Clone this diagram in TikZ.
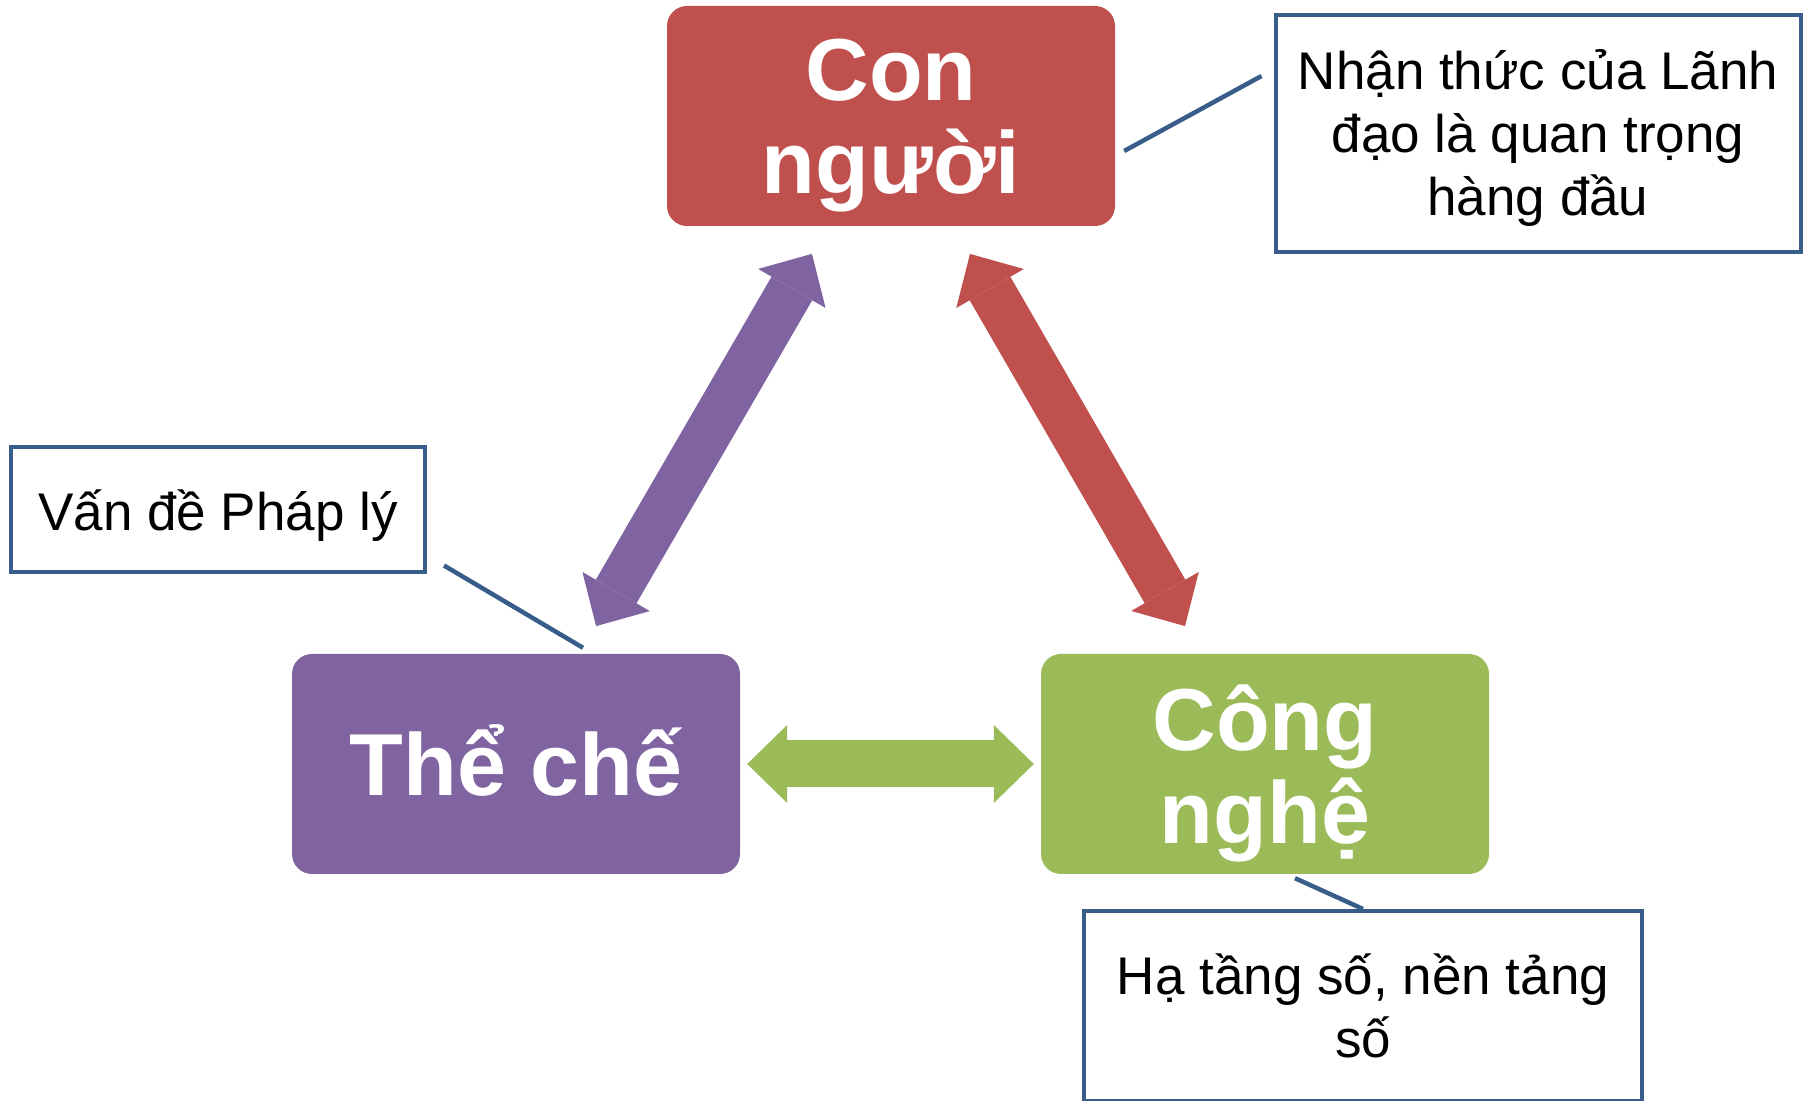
\documentclass[tikz,border=0pt]{standalone}
\usepackage{fontspec}
\setmainfont{Liberation Sans}
\usetikzlibrary{arrows.meta}

\definecolor{conred}{HTML}{C0504D}
\definecolor{thepurple}{HTML}{8064A2}
\definecolor{congreen}{HTML}{9BBB59}
\definecolor{noteblue}{HTML}{385D8A}

\begin{document}
\begin{tikzpicture}
  [x=1pt,y=1pt,
   box/.style={rectangle,rounded corners=20pt,minimum width=448pt,minimum height=220pt,
     inner sep=0pt,text=white,align=center,font=\bfseries\fontsize{88}{93}\selectfont},
   note/.style={rectangle,draw=noteblue,line width=4pt,fill=white,inner sep=0pt,
     align=center,font=\fontsize{53}{63}\selectfont},
   noteline/.style={draw=noteblue,line width=4.5pt},
   bigarrow/.style={line width=47pt,
     arrows={Triangle[length=40pt,width=78pt,line width=0pt]-Triangle[length=40pt,width=78pt,line width=0pt]}}]
  \useasboundingbox (0,0) rectangle (1811,1100);

  \node[box,fill=conred] (cp) at (891,984) {Con\\\smash{người}};
  \node[box,fill=thepurple,text height=63pt,text depth=0pt] (tc) at (516,336) {Thể chế};
  \node[box,fill=congreen] (cn) at (1265,336) {Công\\\smash{nghệ}};

  \node[note,minimum width=525pt,minimum height=237pt] (nt) at (1538,966)
    {\smash{Nhận thức của Lãnh}\vphantom{N}\\đạo là quan trọng\\\smash{hàng đầu}};
  \node[note,minimum width=414pt,minimum height=125pt,text height=42pt,text depth=0pt] (vd)
    at (218,590) {Vấn đề Pháp lý};
  \node[note,minimum width=558pt,minimum height=190pt] (ht) at (1363,94)
    {Hạ tầng số, nền tảng\\số};

  \draw[bigarrow,thepurple,shorten <=32pt,shorten >=32pt]
    ([xshift=-63pt]cp.south) to ([xshift=64pt]tc.north);
  \draw[bigarrow,conred,shorten <=32pt,shorten >=32pt]
    ([xshift=63pt]cp.south) to ([xshift=-64pt]cn.north);
  \draw[bigarrow,congreen,shorten <=7pt,shorten >=7pt] (tc.east) to (cn.west);

  \draw[noteline] ([shift={(9,-35)}]cp.east) to ([shift={(-12,58)}]nt.west);
  \draw[noteline] ([shift={(17,9)}]vd.south east) to ([shift={(67,6)}]tc.north);
  \draw[noteline] ([shift={(30,-4)}]cn.south) to (ht.north);
\end{tikzpicture}
\end{document}
